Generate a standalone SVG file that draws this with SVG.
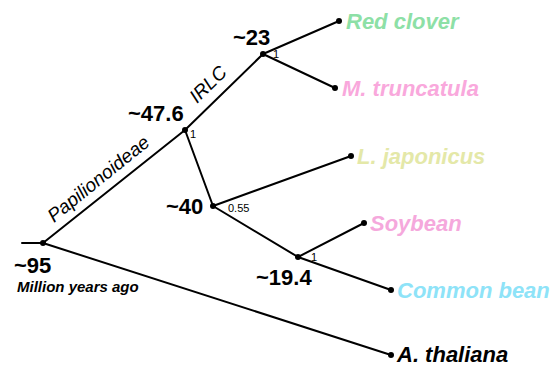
<svg xmlns="http://www.w3.org/2000/svg" width="556" height="366" viewBox="0 0 556 366">
<style>
.br{stroke:#000;stroke-width:2;fill:none;stroke-linecap:round}
.dot{fill:#000}
.age{font-family:"Liberation Sans",Arial,sans-serif;font-weight:bold;font-size:22px;fill:#000}
.sup{font-family:"Liberation Sans",Arial,sans-serif;font-size:11px;fill:#000}
.tip{font-family:"Liberation Sans",Arial,sans-serif;font-weight:bold;font-style:italic;font-size:22px}
.clade{font-family:"Liberation Sans",Arial,sans-serif;font-style:italic;font-size:19px;fill:#000}
</style>
<rect width="556" height="366" fill="#fff"/>
<g id="connectors">
<line class="br" x1="22" y1="243" x2="43" y2="243"/>
<line class="br" x1="43" y1="243" x2="185" y2="130"/>
<line class="br" x1="43" y1="243" x2="391" y2="355"/>
<line class="br" x1="185" y1="130" x2="263" y2="54"/>
<line class="br" x1="185" y1="130" x2="213" y2="206"/>
<line class="br" x1="263" y1="54" x2="339" y2="21"/>
<line class="br" x1="263" y1="54" x2="335" y2="88"/>
<line class="br" x1="213" y1="206" x2="351" y2="156"/>
<line class="br" x1="213" y1="206" x2="298" y2="257"/>
<line class="br" x1="298" y1="257" x2="364" y2="223"/>
<line class="br" x1="298" y1="257" x2="391" y2="290"/>
</g>
<g id="n95"><circle class="dot" cx="43" cy="243" r="3"/><text class="age" x="14" y="273">~95</text>
<text x="17" y="292" font-family="Liberation Sans, Arial, sans-serif" font-weight="bold" font-style="italic" font-size="15">Million years ago</text></g>
<g id="n47"><circle class="dot" cx="185" cy="130" r="3"/><text class="age" x="128" y="121">~47.6</text><text class="sup" x="190" y="138">1</text></g>
<g id="n23"><circle class="dot" cx="263" cy="54" r="3"/><text class="age" x="233" y="45">~23</text><text class="sup" x="273" y="58">1</text></g>
<g id="n40"><circle class="dot" cx="213" cy="206" r="3"/><text class="age" x="166" y="214">~40</text><text class="sup" x="228" y="212">0.55</text></g>
<g id="n19"><circle class="dot" cx="298" cy="257" r="3"/><text class="age" x="256" y="285">~19.4</text><text class="sup" x="311" y="261">1</text></g>
<g id="redclover"><circle class="dot" cx="339" cy="21" r="3"/><text class="tip" x="346" y="29" fill="#8de0a6">Red clover</text></g>
<g id="mtruncatula"><circle class="dot" cx="335" cy="88" r="3"/><text class="tip" x="342" y="96" fill="#f9a8dc">M. truncatula</text></g>
<g id="ljaponicus"><circle class="dot" cx="351" cy="156" r="3"/><text class="tip" x="357" y="164" fill="#e4e8a8">L. japonicus</text></g>
<g id="soybean"><circle class="dot" cx="364" cy="223" r="3"/><text class="tip" x="370" y="231" fill="#f5a8dc">Soybean</text></g>
<g id="commonbean"><circle class="dot" cx="391" cy="290" r="3"/><text class="tip" x="397" y="298" fill="#8ee3f8">Common bean</text></g>
<g id="athaliana"><circle class="dot" cx="391" cy="355" r="3"/><text class="tip" x="397" y="362" fill="#000">A. thaliana</text></g>
<g id="clades">
<text class="clade" transform="translate(54,223) rotate(-39)">Papilionoideae</text>
<text class="clade" transform="translate(197,104) rotate(-44.3)">IRLC</text>
</g>
</svg>
